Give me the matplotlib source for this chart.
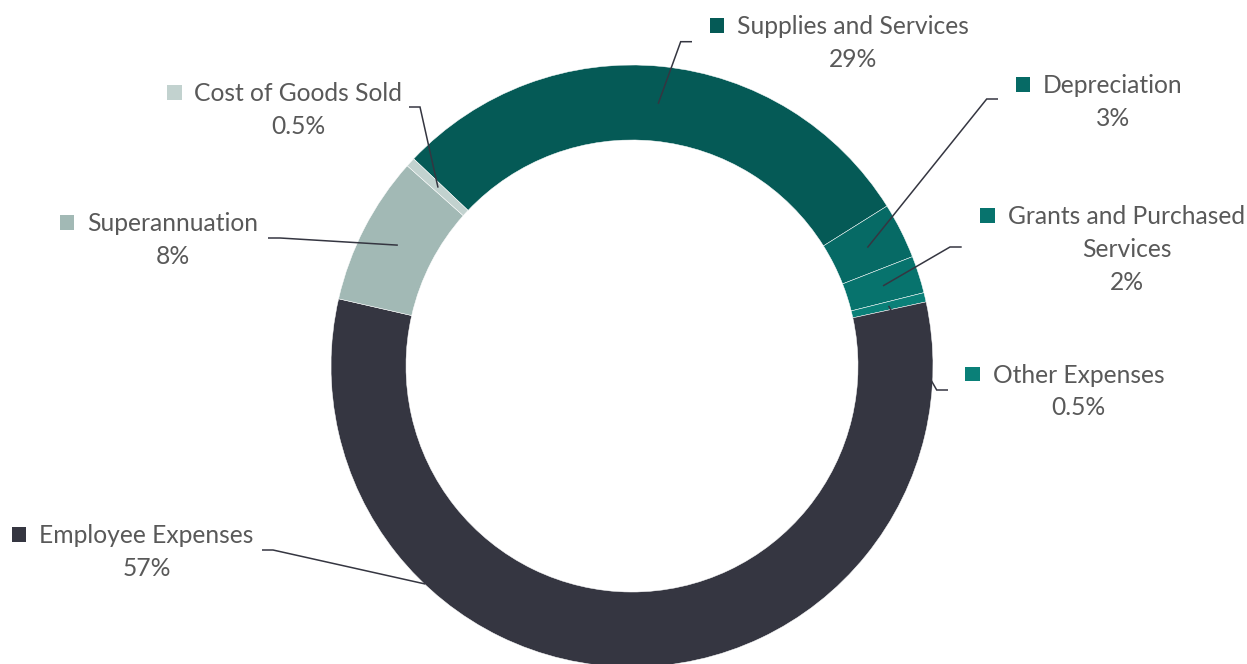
import matplotlib
matplotlib.use("Agg")
import matplotlib.pyplot as plt
import numpy as np
from matplotlib.patches import Rectangle

# Expense breakdown (percent of total)
categories = ["Supplies and Services", "Depreciation", "Grants and Purchased Services",
              "Other Expenses", "Employee Expenses", "Superannuation", "Cost of Goods Sold"]
shares = [29, 3, 2, 0.5, 57, 8, 0.5]
share_labels = ["29%", "3%", "2%", "0.5%", "57%", "8%", "0.5%"]
label_lines = [["Supplies and Services"], ["Depreciation"], ["Grants and Purchased", "Services"],
               ["Other Expenses"], ["Employee Expenses"], ["Superannuation"], ["Cost of Goods Sold"]]
colors = ["#055A56", "#066A65", "#07736D", "#0A8078", "#353641", "#A2B9B5", "#C2D2CF"]

W, H = 1247, 664
fig = plt.figure(figsize=(W / 100, H / 100), dpi=100)
ax = fig.add_axes([0, 0, 1, 1])

cx, cy = 632, H - 366
r_out, r_in = 301, 226
start = 136.5

wedges, _ = ax.pie(shares, colors=colors, startangle=start, counterclock=False,
                   center=(cx, cy), radius=r_out, frame=True,
                   wedgeprops=dict(width=r_out - r_in, edgecolor="white", linewidth=0.35))
ax.set_xlim(0, W)
ax.set_ylim(0, H)
ax.set_aspect("equal")
ax.axis("off")

TEXT = "#595959"
LINE = "#353641"
FONT = "Lato"
FS = 17.7
LH = 32.7  # line pitch in pixels

# label layout: text centre x, first baseline y (pixels from top),
# leader elbow (x, y), horizontal end x, optional anchor (angle, radius)
layout = [
    (853, 34, (680.7, 41.7), 692, None),
    (1113, 93, (986.7, 99), 998, None),
    (1126.5, 224.3, (950, 247), 961.7, None),
    (1078.5, 382.7, (936.7, 390), 948, None),
    (146.5, 543.3, (273, 550), 262, (226.5, r_out - 0.5)),
    (172.5, 231, (280, 238), 268, None),
    (298.5, 101, (420, 107), 409, None),
]

fig.canvas.draw()
renderer = fig.canvas.get_renderer()
inv = ax.transData.inverted()

for w, lines, pct, col, (tx, ty, elbow, endx, anchor) in zip(
        wedges, label_lines, share_labels, colors, layout):
    rows = lines + [pct]
    texts = []
    for i, row in enumerate(rows):
        t = ax.text(tx, H - (ty + i * LH), row, ha="center", va="baseline",
                    fontsize=FS, family=FONT, color=TEXT)
        texts.append(t)
    # legend key to the left of the first row
    bb = texts[0].get_window_extent(renderer=renderer)
    x0, _ = inv.transform((bb.x0, bb.y0))
    size = 14.5
    ax.add_patch(Rectangle((x0 - 13 - size, H - (ty - 1.5)), size, size,
                           facecolor=col, edgecolor="none"))
    # leader line from the ring to the label
    if anchor is None:
        ang = np.deg2rad((w.theta1 + w.theta2) / 2)
        rr = (r_out + r_in) / 2
    else:
        ang = np.deg2rad(anchor[0])
        rr = anchor[1]
    sx, sy = cx + rr * np.cos(ang), cy + rr * np.sin(ang)
    ex, ey = elbow
    ax.plot([sx, ex, endx], [sy, H - ey, H - ey], color=LINE, lw=1.1,
            solid_capstyle="butt", solid_joinstyle="miter", zorder=5)

fig.savefig("out.png", dpi=100, facecolor="white")
